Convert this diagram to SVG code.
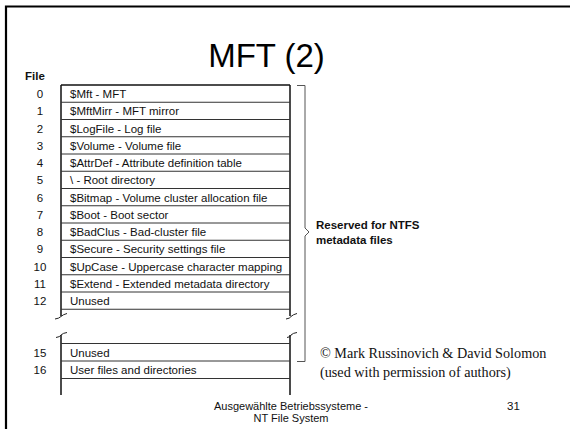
<svg xmlns="http://www.w3.org/2000/svg" width="570" height="429" viewBox="0 0 570 429">
<style>
  .frame { stroke: #000; stroke-width: 2.2; fill: none; }
  .tv { stroke: #111; stroke-width: 1.5; fill: none; }
  .row { stroke: #333; stroke-width: 1; fill: none; }
  .brk { stroke: #222; stroke-width: 1; fill: none; }
  .brace { stroke: #555; stroke-width: 1; fill: none; }
  .t { font-family: "Liberation Sans", Arial, sans-serif; font-size: 11.5px; fill: #111; }
  .n { font-family: "Liberation Sans", Arial, sans-serif; font-size: 11.5px; fill: #111; text-anchor: middle; }
  .b { font-family: "Liberation Sans", Arial, sans-serif; font-size: 11.5px; font-weight: bold; fill: #111; }
  .ser { font-family: "Liberation Serif", "Times New Roman", serif; font-size: 14.2px; fill: #111; }
  .foot { font-family: "Liberation Sans", Arial, sans-serif; font-size: 11px; fill: #111; text-anchor: middle; }
</style>
<rect width="570" height="429" fill="#fff"/>
<g id="frame">
  <path class="frame" d="M6,429 V6.5 H570"/>
</g>
<g id="title">
  <text x="266.5" y="67" font-family="Liberation Sans, Arial, sans-serif" font-size="33" text-anchor="middle" fill="#000">MFT (2)</text>
  <text class="b" x="25" y="80" font-size="10.5">File</text>
</g>
<g id="connectors">
  <!-- table verticals -->
  <path class="tv" d="M61,85 V316 M290,85 V316 M61,335 V395 M290,335 V395"/>
  <path class="tv" d="M61,85 H290"/>
  <!-- break marks -->
  <path class="brk" d="M55,319 q4,-0.5 6,-2.5 q2,-2 6,-3"/>
  <path class="brk" d="M286,319 q4,-0.5 5,-2.5 q2,-2 6,-3"/>
  <path class="brk" d="M56,337.5 q4,-0.5 5,-2.5 q2,-2 6,-2.5"/>
  <path class="brk" d="M287,337.5 q4,-0.5 4,-2.5 q2,-2 6,-2.5"/>
  <!-- brace -->
  <path class="brace" d="M297,85.5 H305 V228 L309,232 L305,236 V361.5 H297"/>
</g>
<g id="rows" class="row">
  <path d="M61,102.25 H290 M61,119.5 H290 M61,136.75 H290 M61,154 H290 M61,171.25 H290 M61,188.5 H290 M61,205.75 H290 M61,223 H290 M61,240.25 H290 M61,257.5 H290 M61,274.75 H290 M61,292 H290 M61,309.25 H290"/>
  <path d="M61,343.5 H290 M61,361 H290 M61,378.5 H290"/>
</g>
<g id="node-0"><text class="n" x="40" y="98">0</text><text class="t" x="70" y="98">$Mft - MFT</text></g>
<g id="node-1"><text class="n" x="40" y="115.25">1</text><text class="t" x="70" y="115.25">$MftMirr - MFT mirror</text></g>
<g id="node-2"><text class="n" x="40" y="132.5">2</text><text class="t" x="70" y="132.5">$LogFile - Log file</text></g>
<g id="node-3"><text class="n" x="40" y="149.75">3</text><text class="t" x="70" y="149.75">$Volume - Volume file</text></g>
<g id="node-4"><text class="n" x="40" y="167">4</text><text class="t" x="70" y="167">$AttrDef - Attribute definition table</text></g>
<g id="node-5"><text class="n" x="40" y="184.25">5</text><text class="t" x="70" y="184.25">\ - Root directory</text></g>
<g id="node-6"><text class="n" x="40" y="201.5">6</text><text class="t" x="70" y="201.5">$Bitmap - Volume cluster allocation file</text></g>
<g id="node-7"><text class="n" x="40" y="218.75">7</text><text class="t" x="70" y="218.75">$Boot - Boot sector</text></g>
<g id="node-8"><text class="n" x="40" y="236">8</text><text class="t" x="70" y="236">$BadClus - Bad-cluster file</text></g>
<g id="node-9"><text class="n" x="40" y="253.25">9</text><text class="t" x="70" y="253.25">$Secure - Security settings file</text></g>
<g id="node-10"><text class="n" x="40" y="270.5">10</text><text class="t" x="70" y="270.5">$UpCase - Uppercase character mapping</text></g>
<g id="node-11"><text class="n" x="40" y="287.75">11</text><text class="t" x="70" y="287.75">$Extend - Extended metadata directory</text></g>
<g id="node-12"><text class="n" x="40" y="305">12</text><text class="t" x="70" y="305">Unused</text></g>
<g id="node-15"><text class="n" x="40" y="356.5">15</text><text class="t" x="70" y="356.5">Unused</text></g>
<g id="node-16"><text class="n" x="40" y="374">16</text><text class="t" x="70" y="374">User files and directories</text></g>
<g id="label-reserved">
  <text class="b" x="316" y="228.5">Reserved for NTFS</text>
  <text class="b" x="316" y="243.5">metadata files</text>
</g>
<g id="copyright">
  <text class="ser" x="320" y="358">© Mark Russinovich &amp; David Solomon</text>
  <text class="ser" x="320" y="377">(used with permission of authors)</text>
</g>
<g id="footer">
  <text class="foot" x="291" y="410">Ausgewählte Betriebssysteme -</text>
  <text class="foot" x="291" y="422">NT File System</text>
  <text class="t" x="507" y="410" font-size="11.5">31</text>
</g>
</svg>
